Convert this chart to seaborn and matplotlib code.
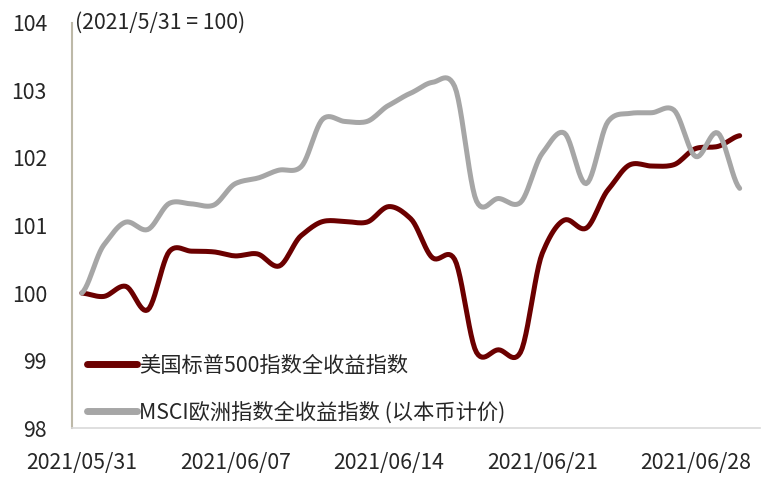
import numpy as np
import pandas as pd
import matplotlib
matplotlib.use("Agg")
import matplotlib.pyplot as plt
import seaborn as sns

dates = pd.date_range("2021-05-31", "2021-06-30", freq="D")
sp500 = [100.0, 99.95, 100.1, 99.75, 100.62, 100.62, 100.61, 100.55, 100.58, 100.4,
         100.85, 101.06, 101.06, 101.05, 101.28, 101.1, 100.52, 100.5, 99.12, 99.16,
         99.12, 100.59, 101.08, 100.96, 101.53, 101.9, 101.88, 101.9, 102.14, 102.17,
         102.33]
msci_eu = [100.0, 100.71, 101.05, 100.94, 101.33, 101.32, 101.3, 101.62, 101.7, 101.82,
           101.87, 102.58, 102.54, 102.54, 102.78, 102.96, 103.12, 103.06, 101.36, 101.4,
           101.34, 102.07, 102.37, 101.62, 102.54, 102.66, 102.67, 102.71, 102.02, 102.37,
           101.55]
series_names = ["美国标普500指数全收益指数", "MSCI欧洲指数全收益指数 (以本币计价)"]
colors = ["#6B0000", "#A6A6A6"]
xtick_labels = ["2021/05/31", "2021/06/07", "2021/06/14", "2021/06/21", "2021/06/28"]
yticks = [98, 99, 100, 101, 102, 103, 104]


def smooth(values, n=12, tension=0.8):
    # Bezier smoothing between consecutive points (spreadsheet-style smoothed line)
    v = np.asarray(values, dtype=float)
    p = np.concatenate([[v[0]], v, [v[-1]]])
    t_out, y_out = [], []
    for i in range(len(v) - 1):
        p0, p1, p2, p3 = p[i], p[i + 1], p[i + 2], p[i + 3]
        c1 = p1 + tension * (p2 - p0) / 6.0
        c2 = p2 - tension * (p3 - p1) / 6.0
        for t in np.linspace(0, 1, n, endpoint=False):
            y = ((1 - t) ** 3 * p1 + 3 * (1 - t) ** 2 * t * c1
                 + 3 * (1 - t) * t ** 2 * c2 + t ** 3 * p2)
            t_out.append(i + t)
            y_out.append(y)
    t_out.append(len(v) - 1)
    y_out.append(v[-1])
    return np.array(t_out), np.array(y_out)


frames = []
for name, vals in zip(series_names, [sp500, msci_eu]):
    t, y = smooth(vals)
    d = dates[0] + pd.to_timedelta(t, unit="D")
    frames.append(pd.DataFrame({"date": d, "value": y, "series": name}))
df = pd.concat(frames, ignore_index=True)

sns.set_theme(style="white")
plt.rcParams["font.family"] = ["Noto Sans CJK SC", "DejaVu Sans"]

FS = 15.3
fig = plt.figure(figsize=(7.78, 4.86), dpi=100)
ax = fig.add_axes([0.0925, 0.119, 0.885, 0.834])

sns.lineplot(data=df, x="date", y="value", hue="series", hue_order=series_names,
             palette=colors, linewidth=3.6, ax=ax, sort=False, estimator=None)

ax.set_ylim(98, 104)
ax.set_yticks(yticks)
ax.set_yticklabels([str(v) for v in yticks], fontsize=FS, color="#262626")
ax.set_xlim(dates[0] - pd.Timedelta(days=0.45), dates[0] + pd.Timedelta(days=30.95))
tick_dates = pd.to_datetime(xtick_labels, format="%Y/%m/%d")
ax.set_xticks(tick_dates)
ax.set_xticklabels(xtick_labels, fontsize=FS, color="#262626")
ax.tick_params(axis="both", length=0)
ax.tick_params(axis="y", pad=18)
ax.tick_params(axis="x", pad=17)
ax.set_xlabel("")
ax.set_ylabel("")

for s in ["top", "right"]:
    ax.spines[s].set_visible(False)
ax.spines["left"].set_color("#BDB9A8")
ax.spines["left"].set_linewidth(1.5)
ax.spines["bottom"].set_color("#D9D9D9")
ax.spines["bottom"].set_linewidth(1.2)

ax.text(0.004, 1.0, "(2021/5/31 = 100)", transform=ax.transAxes, fontsize=FS,
        color="#262626", va="center", ha="left")

leg = ax.legend(loc="lower left", bbox_to_anchor=(0.0, -0.025), frameon=False,
                fontsize=FS, handlelength=2.35, handletextpad=0.1, labelspacing=1.15,
                borderaxespad=0.3)
for txt in leg.get_texts():
    txt.set_color("#262626")
for line in leg.get_lines():
    line.set_linewidth(5)

fig.savefig("out.png", dpi=100)
